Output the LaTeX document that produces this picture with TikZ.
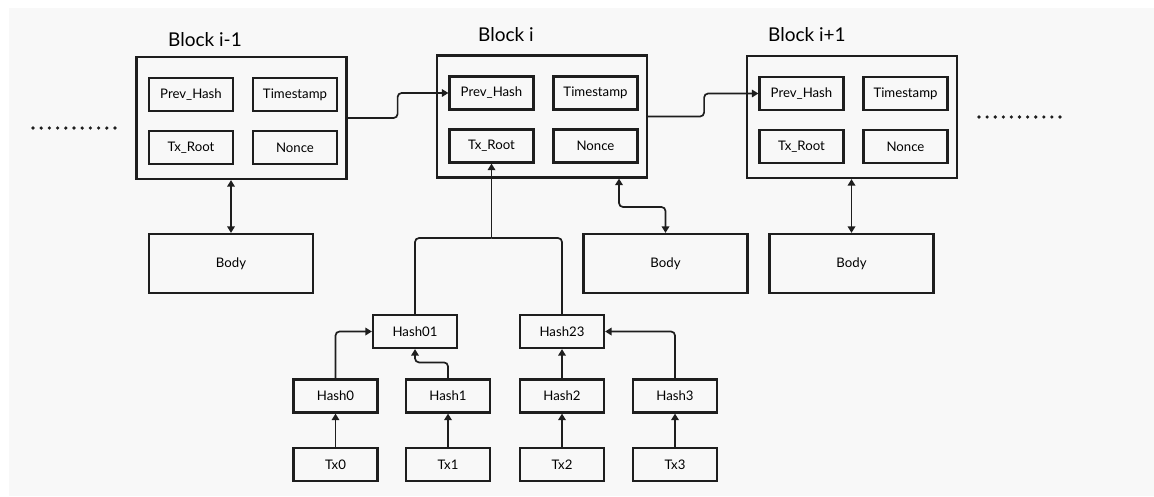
\documentclass[tikz,border=0pt]{standalone}
\usepackage{fontspec}
\setmainfont{Lato}
\usetikzlibrary{arrows.meta,calc}
\definecolor{bg}{HTML}{F8F8F8}
\definecolor{ink}{HTML}{1E1E1E}
\tikzset{
  blockbox/.style={draw=ink, line width=2.2pt, minimum width=210pt, minimum height=122pt, inner sep=0pt},
  fieldbox/.style={draw=ink, line width=2.2pt, minimum width=84pt, minimum height=33pt, inner sep=0pt, font=\fontsize{13.2}{14}\selectfont},
  bodybox/.style={draw=ink, line width=2.2pt, minimum width=164pt, minimum height=59pt, inner sep=0pt, font=\fontsize{13.2}{14}\selectfont},
  blocklabel/.style={anchor=west, inner sep=0pt, font=\fontsize{19}{20}\selectfont},
  conn/.style={draw=ink, line width=1.7pt, rounded corners=4pt},
  arr/.style={conn, -{Triangle[length=6.5pt,width=7.5pt]}},
  darr/.style={conn, {Triangle[length=6.5pt,width=7.5pt]}-{Triangle[length=6.5pt,width=7.5pt]}},
}
\begin{document}
\begin{tikzpicture}[x=1pt,y=-1pt]
\useasboundingbox (0,0) rectangle (1154,496);
\fill[white] (0,0) rectangle (1154,496);
\fill[bg] (9,8) rectangle (1154,496);

% blocks
\node[blockbox] (B0) at (241.5,118) {};
\node[blockbox] (B1) at (542,116.5) {};
\node[blockbox] (B2) at (852,117) {};

\node[blocklabel] (L0) at (168,40) {Block i-1};
\node[blocklabel] (L1) at (478,34.5) {Block i};
\node[blocklabel] (L2) at (768,34.5) {Block i+1};

% fields
\foreach \b in {0,1,2}{
  \node[fieldbox] (P\b) at ($(B\b.center)+(-50.5,-23.5)$) {Prev\_Hash};
  \node[fieldbox] (T\b) at ($(B\b.center)+(53.5,-23.5)$) {Timestamp};
  \node[fieldbox] (R\b) at ($(B\b.center)+(-50.5,29.5)$) {Tx\_Root};
  \node[fieldbox] (N\b) at ($(B\b.center)+(53.5,29.5)$) {Nonce};
}

% bodies
\node[bodybox] (D0) at (231,263.5) {Body};
\node[bodybox] (D1) at (665.5,263.5) {Body};
\node[bodybox] (D2) at (851.5,263.5) {Body};

% merkle tree
\node[fieldbox] (H01) at (415,331.5) {Hash01};
\node[fieldbox] (H23) at (562,331.5) {Hash23};
\node[fieldbox] (H0) at (335.5,396) {Hash0};
\node[fieldbox] (H1) at (448,396) {Hash1};
\node[fieldbox] (H2) at (562,396) {Hash2};
\node[fieldbox] (H3) at (675,396) {Hash3};
\node[fieldbox] (X0) at (335.5,464.5) {Tx0};
\node[fieldbox] (X1) at (448,464.5) {Tx1};
\node[fieldbox] (X2) at (562,464.5) {Tx2};
\node[fieldbox] (X3) at (675,464.5) {Tx3};

% chain links
\draw[arr] (B0.east) -- ++(50,0) |- (P1.west);
\draw[arr] (B1.east) -- ++(56,0) |- (P2.west);

% block-body links
\draw[darr] (B0.south -| D0.north) -- (D0.north);
\draw[darr] (B1.south -| 619,0) -- (619,207) -| (D1.north);
\draw[darr] (B2.south -| D2.north) -- (D2.north);

% merkle links
\coordinate (M) at (R1.south |- 0,238);
\draw[conn] (H01.north) |- (M);
\draw[conn] (H23.north) |- (M);
\draw[arr] (M) -- (R1.south);
\draw[arr] (H0.north) |- (H01.west);
\draw[arr] (H1.north) -- ++(0,-16) -| (H01.south);
\draw[arr] (H2.north) -- (H23.south);
\draw[arr] (H3.north) |- (H23.east);
\foreach \i in {0,1,2,3}{
  \draw[arr] (X\i.north) -- (H\i.south);
}

% continuation dots
\foreach \k in {0,...,10}{
  \fill[ink] (33+\k*8.2,128) circle (1.8pt);
  \fill[ink] (979+\k*8.1,117) circle (1.8pt);
}
\end{tikzpicture}
\end{document}
